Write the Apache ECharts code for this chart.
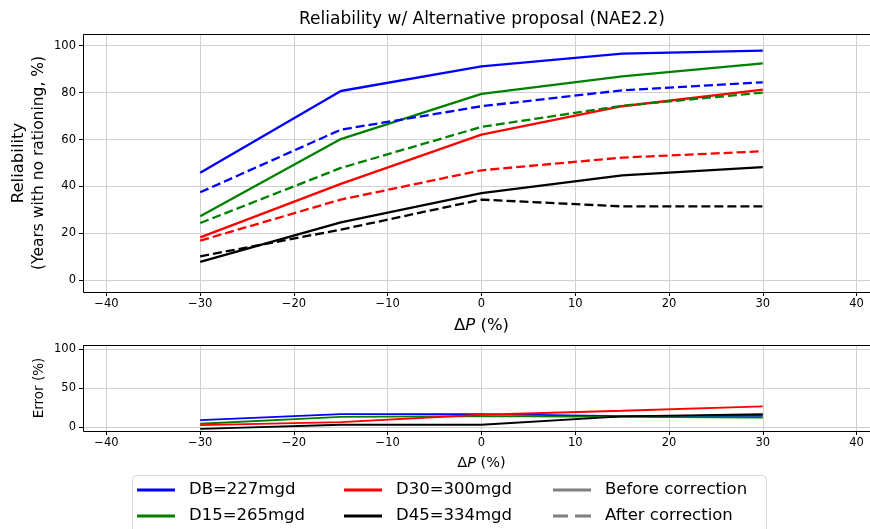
<!DOCTYPE html>
<html>
<head>
<meta charset="utf-8">
<script src="https://cdn.jsdelivr.net/npm/echarts@6/dist/echarts.min.js"></script>
<style>
  html, body { margin: 0; padding: 0; background: #fff; overflow: hidden; }
  #chart { width: 900px; height: 529px; }
</style>
</head>
<body>
<div id="chart"></div>
<script>
// x values (Delta P, %)
var dP = [-30, -15, 0, 15, 30];

// reliability, before correction (solid)
var dbBefore  = [45.8, 80.7, 91.2, 96.6, 97.9];
var d15Before = [27.3, 60.2, 79.5, 86.9, 92.5];
var d30Before = [18.3, 41.1, 62.1, 74.2, 81.3];
var d45Before = [7.8, 24.7, 37.2, 44.7, 48.2];

// reliability, after correction (dashed)
var dbAfter  = [37.5, 64.2, 74.2, 81.0, 84.4];
var d15After = [24.4, 47.9, 65.4, 74.4, 80.0];
var d30After = [16.9, 34.4, 46.9, 52.3, 55.0];
var d45After = [10.2, 21.6, 34.4, 31.5, 31.5];

// error (%)
var dbErr  = [9.0, 16.5, 16.5, 14.0, 14.5];
var d15Err = [4.3, 13.0, 14.0, 13.0, 12.0];
var d30Err = [2.5, 6.4, 15.8, 20.9, 26.4];
var d45Err = [-2.2, 3.0, 3.0, 13.6, 16.6];

var names = ['DB=227mgd', 'D15=265mgd', 'D30=300mgd', 'D45=334mgd'];
var colors = ['#0000ff', '#008000', '#ff0000', '#000000'];
var before = [dbBefore, d15Before, d30Before, d45Before];
var after = [dbAfter, d15After, d30After, d45After];
var errs = [dbErr, d15Err, d30Err, d45Err];

function pairs(ys) {
  return dP.map(function (x, i) { return [x, ys[i]]; });
}

var font = 'DejaVu Sans';
var gridLine = { show: true, lineStyle: { color: '#d0d0d0', width: 1 } };

// plot boxes (pixels)
var box1 = { left: 83, top: 34, width: 797, height: 258 };
var box2 = { left: 83, top: 345, width: 797, height: 86 };

function xAx(gi, nameSize, gap) {
  return {
    type: 'value', gridIndex: gi, min: -42.5, max: 42.5,
    splitNumber: 8, minInterval: 10, maxInterval: 10,
    axisLine: { show: false, onZero: false },
    axisTick: { show: true, length: 4, lineStyle: { color: '#000' } },
    axisLabel: { color: '#000', fontFamily: font, fontSize: 11.5, margin: 6,
      showMinLabel: false, showMaxLabel: false,
      formatter: function (v) { return String(v).replace('-', '\u2212'); } },
    splitLine: gridLine,
    name: '{n|\u0394}{i|P}{n| (%)}', nameLocation: 'middle', nameGap: gap,
    nameTextStyle: { rich: {
      n: { fontFamily: font, fontSize: nameSize, color: '#000' },
      i: { fontFamily: font, fontSize: nameSize, fontStyle: 'italic', color: '#000' }
    } }
  };
}

var series = [];
for (var k = 0; k < 4; k++) {
  series.push({
    name: names[k], type: 'line', xAxisIndex: 0, yAxisIndex: 0,
    data: pairs(before[k]), symbol: 'none', animation: false,
    lineStyle: { color: colors[k], width: 2.3 }, itemStyle: { color: colors[k] }
  });
}
for (var k = 0; k < 4; k++) {
  series.push({
    name: names[k] + ' after', type: 'line', xAxisIndex: 0, yAxisIndex: 0,
    data: pairs(after[k]), symbol: 'none', animation: false,
    lineStyle: { color: colors[k], width: 2.3, type: [9, 4] }, itemStyle: { color: colors[k] }
  });
}
for (var k = 0; k < 4; k++) {
  series.push({
    name: names[k] + ' err', type: 'line', xAxisIndex: 1, yAxisIndex: 1,
    data: pairs(errs[k]), symbol: 'none', animation: false,
    lineStyle: { color: colors[k], width: 1.8 }, itemStyle: { color: colors[k] }
  });
}
series.push({ name: 'Before correction', type: 'line', xAxisIndex: 0, yAxisIndex: 0, data: [],
  symbol: 'none', lineStyle: { color: '#808080', width: 3 }, itemStyle: { color: '#808080' } });
series.push({ name: 'After correction', type: 'line', xAxisIndex: 0, yAxisIndex: 0, data: [],
  symbol: 'none', lineStyle: { color: '#808080', width: 3, type: [9, 4] }, itemStyle: { color: '#808080' } });

var solidIcon = 'path://M0,0h38v3h-38z';
var dashIcon = 'path://M0,0h15v3h-15z M22,0h16v3h-16z';

function leg(left, data) {
  return {
    orient: 'vertical', left: left, top: 480, padding: 0,
    itemWidth: 38, itemHeight: 3, itemGap: 6, icon: solidIcon,
    selectedMode: false, data: data,
    textStyle: { fontFamily: font, fontSize: 16.5, lineHeight: 20, color: '#000', padding: [0, 0, 0, 9] }
  };
}

function frame(b) {
  return {
    type: 'rect', z: 100, silent: true,
    shape: { x: b.left + 0.5, y: b.top + 0.5, width: b.width, height: b.height },
    style: { fill: 'none', stroke: '#000', lineWidth: 1 }
  };
}

var chart = echarts.init(document.getElementById('chart'), null, { renderer: 'canvas' });
chart.setOption({
  animation: false,
  backgroundColor: '#fff',
  title: {
    text: 'Reliability w/ Alternative proposal (NAE2.2)',
    left: 482, top: 11, textAlign: 'center', padding: 0,
    textStyle: { fontFamily: font, fontSize: 17, fontWeight: 'normal', color: '#000' }
  },
  grid: [
    { left: box1.left, top: box1.top, width: box1.width, height: box1.height },
    { left: box2.left, top: box2.top, width: box2.width, height: box2.height }
  ],
  xAxis: [xAx(0, 16.5, 25), xAx(1, 14.5, 25)],
  yAxis: [
    {
      type: 'value', gridIndex: 0, min: -5, max: 105, splitNumber: 5, minInterval: 20, maxInterval: 20,
      axisLine: { show: false, onZero: false },
      axisTick: { show: true, length: 4, lineStyle: { color: '#000' } },
      axisLabel: { color: '#000', fontFamily: font, fontSize: 11.5, margin: 7, showMinLabel: false, showMaxLabel: false },
      splitLine: gridLine,
      name: '{a|Reliability}\n{b|(Years with no rationing, %)}', nameLocation: 'middle', nameRotate: 90, nameGap: 34,
      nameMoveOverlap: false,
      nameTextStyle: { align: 'center', rich: {
        a: { fontFamily: font, fontSize: 16.5, color: '#000', lineHeight: 20, align: 'center' },
        b: { fontFamily: font, fontSize: 15.5, color: '#000', lineHeight: 20, align: 'center' }
      } }
    },
    {
      type: 'value', gridIndex: 1, min: -5, max: 105, splitNumber: 2, minInterval: 50, maxInterval: 50,
      axisLine: { show: false, onZero: false },
      axisTick: { show: true, length: 4, lineStyle: { color: '#000' } },
      axisLabel: { color: '#000', fontFamily: font, fontSize: 11.5, margin: 7, showMinLabel: false, showMaxLabel: false },
      splitLine: gridLine,
      name: 'Error (%)', nameLocation: 'middle', nameRotate: 90, nameGap: 37,
      nameMoveOverlap: false,
      nameTextStyle: { fontFamily: font, fontSize: 13.5, color: '#000' }
    }
  ],
  legend: [
    leg(137, names.slice(0, 2)),
    leg(344, names.slice(2, 4)),
    leg(553, ['Before correction', { name: 'After correction', icon: dashIcon }])
  ],
  graphic: [
    frame(box1),
    frame(box2),
    {
      type: 'rect', z: -1, silent: true,
      shape: { x: 132.5, y: 475.5, width: 634, height: 70, r: 4 },
      style: { fill: '#fff', stroke: '#d6d6d6', lineWidth: 1 }
    }
  ],
  series: series
});
</script>
</body>
</html>
